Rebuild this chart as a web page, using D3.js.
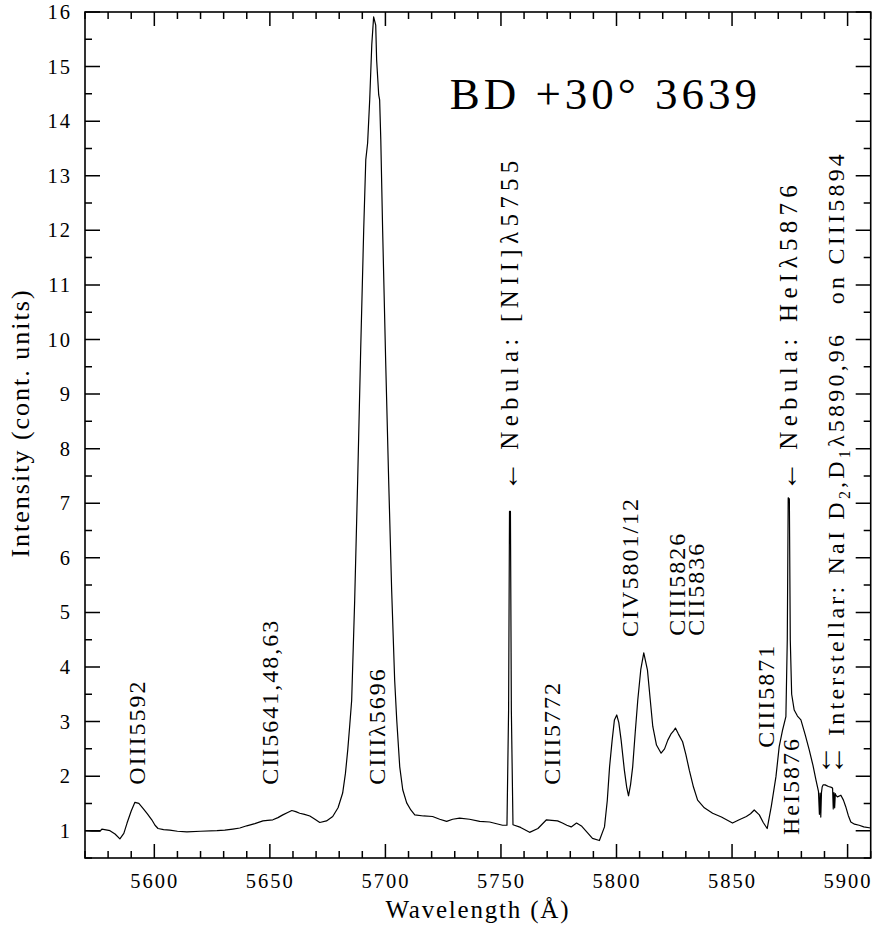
<!DOCTYPE html>
<html>
<head>
<meta charset="utf-8">
<script src="https://cdn.jsdelivr.net/npm/d3@7"></script>
<style>
  body { margin: 0; background: #fff; }
  text { font-family: "Liberation Serif", serif; fill: #000; }
</style>
</head>
<body>
<svg id="chart"></svg>
<script>
// spectrum: wavelength (A) and intensity (continuum units)
const wavelength = [
  5570.0, 5573.0, 5576.5, 5577.3, 5578.5, 5580.8, 5583.0, 5585.1, 5586.8, 5588.2, 5590.0, 5591.6,
  5593.3, 5595.1, 5597.0, 5598.9, 5600.3, 5601.6, 5604.0, 5606.7, 5610.0, 5614.1, 5620.0, 5627.1,
  5630.5, 5634.0, 5637.0, 5640.0, 5643.5, 5647.0, 5649.0, 5651.3, 5653.5, 5655.6, 5657.5, 5659.5,
  5661.2, 5662.9, 5665.0, 5667.3, 5669.5, 5671.6, 5674.5, 5677.2, 5679.5, 5681.5, 5682.7, 5683.7,
  5684.6, 5685.4, 5686.7, 5688.0, 5689.3, 5690.6, 5691.5, 5692.3, 5693.2, 5694.1, 5694.9, 5695.8,
  5696.2, 5697.1, 5697.5, 5698.0, 5698.8, 5700.1, 5701.4, 5702.7, 5704.0, 5704.9, 5706.2, 5707.5,
  5709.2, 5711.0, 5712.7, 5716.5, 5720.4, 5723.5, 5726.5, 5729.1, 5732.1, 5736.4, 5740.8, 5745.1,
  5750.7, 5752.6, 5753.3, 5753.7, 5754.1, 5754.5, 5755.2, 5758.5, 5762.4, 5766.0, 5769.7, 5772.0,
  5774.5, 5776.6, 5778.5, 5780.4, 5782.7, 5785.0, 5787.5, 5789.6, 5792.6, 5794.8, 5796.0, 5797.0,
  5798.1, 5799.1, 5800.1, 5801.0, 5802.0, 5803.4, 5804.4, 5805.2, 5806.1, 5807.0, 5808.1, 5809.2,
  5810.5, 5811.8, 5813.4, 5814.6, 5815.7, 5817.3, 5819.3, 5820.8, 5822.2, 5823.7, 5824.7, 5825.5,
  5826.8, 5828.6, 5830.0, 5831.5, 5833.3, 5835.1, 5838.0, 5841.6, 5845.4, 5848.0, 5850.2, 5853.1,
  5856.2, 5858.0, 5859.6, 5861.8, 5863.5, 5865.2, 5867.0, 5869.0, 5870.4, 5871.9, 5873.3, 5873.9,
  5874.3, 5874.8, 5875.2, 5875.8, 5876.9, 5878.3, 5879.8, 5881.7, 5883.4, 5885.0, 5886.3, 5887.4,
  5887.8, 5888.1, 5888.4, 5888.7, 5889.0, 5889.4, 5890.3, 5891.7, 5892.7, 5893.5, 5893.8, 5894.1,
  5894.4, 5894.7, 5894.9, 5895.6, 5897.1, 5898.2, 5899.2, 5900.3, 5901.4, 5903.0, 5905.0, 5907.0,
  5910.0
];
const intensity = [
  1.00, 0.99, 0.99, 1.03, 1.02, 1.00, 0.94, 0.85, 0.95, 1.14, 1.36, 1.52,
  1.50, 1.41, 1.31, 1.20, 1.10, 1.04, 1.02, 1.01, 0.99, 0.98, 0.99, 1.00,
  1.01, 1.03, 1.05, 1.09, 1.13, 1.18, 1.19, 1.20, 1.24, 1.29, 1.33, 1.37,
  1.35, 1.32, 1.30, 1.27, 1.21, 1.15, 1.18, 1.26, 1.42, 1.69, 2.05, 2.48,
  2.95, 3.39, 5.22, 7.43, 9.81, 12.00, 13.29, 13.60, 14.39, 15.40, 15.91, 15.76,
  15.12, 14.48, 14.39, 13.66, 12.00, 9.62, 7.43, 5.41, 3.76, 3.03, 2.17, 1.75,
  1.51, 1.38, 1.29, 1.27, 1.26, 1.21, 1.17, 1.21, 1.23, 1.21, 1.17, 1.16,
  1.10, 1.10, 3.20, 6.85, 6.85, 3.20, 1.11, 1.06, 0.97, 1.04, 1.20, 1.19,
  1.18, 1.14, 1.10, 1.07, 1.14, 1.08, 0.96, 0.86, 0.82, 1.07, 1.55, 2.17,
  2.65, 3.03, 3.12, 2.98, 2.66, 2.11, 1.80, 1.64, 1.85, 2.17, 2.80, 3.39,
  3.95, 4.26, 3.94, 3.40, 2.91, 2.57, 2.42, 2.50, 2.66, 2.78, 2.83, 2.88,
  2.77, 2.63, 2.40, 2.11, 1.80, 1.56, 1.42, 1.32, 1.25, 1.19, 1.14, 1.20,
  1.26, 1.31, 1.38, 1.29, 1.15, 1.04, 1.45, 1.99, 2.54, 2.85, 3.09, 4.50,
  7.10, 7.08, 4.50, 3.50, 3.21, 3.10, 3.03, 2.75, 2.48, 2.20, 1.93, 1.72,
  1.30, 1.69, 1.25, 1.70, 1.80, 1.84, 1.84, 1.81, 1.80, 1.78, 1.40, 1.70,
  1.42, 1.68, 1.65, 1.62, 1.65, 1.56, 1.44, 1.28, 1.16, 1.12, 1.10, 1.07,
  1.05
];

const xTicks = [5600, 5650, 5700, 5750, 5800, 5850, 5900];
const yTicks = [1, 2, 3, 4, 5, 6, 7, 8, 9, 10, 11, 12, 13, 14, 15, 16];

// line identifications: text, wavelength of the column, intensity where the text starts
const lineLabels = [
  {text: 'OIII5592', w: 5592.4, i: 1.84},
  {text: 'CII5641,48,63', w: 5650.0, i: 1.84},
  {text: 'CIIIλ5696', w: 5696.2, i: 1.84},
  {text: 'CIII5772', w: 5772.1, i: 1.84},
  {text: 'CIV5801/12', w: 5806.0, i: 4.55},
  {text: 'CIII5826', w: 5826.1, i: 4.57},
  {text: 'CII5836', w: 5834.6, i: 4.57},
  {text: 'CIII5871', w: 5864.7, i: 2.52},
  {text: 'HeI5876', w: 5875.5, i: 0.92}
];
// nebular lines, spaced wider than the ion labels
const nebulaLabels = [
  {text: ' Nebula: [NII]λ5755', w: 5754.0, i: 7.22},
  {text: ' Nebula: HeIλ5876', w: 5874.7, i: 7.22}
];
// the interstellar label carries subscripts, so it is kept in pieces
const interstellarParts = [
  {t: ' Interstellar: NaI D', sub: false},
  {t: '2', sub: true},
  {t: ',D', sub: false},
  {t: '1', sub: true},
  {t: 'λ5890,96   on CIII5894', sub: false}
];
const interstellarPos = {w: 5895.2, i: 2.02};
const extraArrow = {w: 5889.6, i: 2.02};
const title = {text: 'BD +30° 3639', w: 5727.8, i: 14.22};

let margin = {top: 12, right: 1.3, bottom: 72, left: 85},
  width = 872 - margin.left - margin.right,
  height = 930 - margin.top - margin.bottom;

let svg = d3.select('#chart')
  .attr('width', 872)
  .attr('height', 930)
  .append('g')
  .attr('transform', 'translate(' + margin.left + ',' + margin.top + ')');

let x = d3.scaleLinear().domain([5570, 5910]).range([0, width]);
let y = d3.scaleLinear().domain([0.5, 16]).range([height, 0]);

let xMinor = d3.range(5570, 5911, 10).filter((v) => xTicks.indexOf(v) < 0);
let yMinor = d3.range(0.5, 16.01, 0.5).filter((v) => yTicks.indexOf(v) < 0);

let styleLabels = function (g) {
  g.select('.domain').remove();
  g.selectAll('.tick line').remove();
  g.selectAll('.tick text')
    .attr('font-family', '"Liberation Serif", serif')
    .attr('font-size', 20.5)
    .attr('letter-spacing', 2)
    .attr('fill', '#000');
};

// tick labels from the axes
svg.append('g')
  .attr('transform', 'translate(0,' + height + ')')
  .call(d3.axisBottom(x).tickValues(xTicks).tickSize(0).tickPadding(15).tickFormat(d3.format('d')))
  .call(styleLabels);
svg.append('g')
  .call(d3.axisLeft(y).tickValues(yTicks).tickSize(0).tickPadding(13).tickFormat(d3.format('d')))
  .call(styleLabels);

// inward tick marks on all four sides, drawn as one path
let xMarks = xTicks.map((v) => ({v: v, len: 14})).concat(xMinor.map((v) => ({v: v, len: 7})));
let yMarks = yTicks.map((v) => ({v: v, len: 15})).concat(yMinor.map((v) => ({v: v, len: 7})));
let tickPath = '';
xMarks.forEach((d) => {
  let px = x(d.v);
  tickPath += 'M' + px + ',' + height + 'V' + (height - d.len);
  tickPath += 'M' + px + ',0V' + d.len;
});
yMarks.forEach((d) => {
  let py = y(d.v);
  tickPath += 'M0,' + py + 'H' + d.len;
  tickPath += 'M' + width + ',' + py + 'H' + (width - d.len);
});
svg.append('path')
  .attr('d', tickPath)
  .attr('fill', 'none')
  .attr('stroke', '#000')
  .attr('stroke-width', 1.5);

// frame
svg.append('rect')
  .attr('width', width)
  .attr('height', height)
  .attr('fill', 'none')
  .attr('stroke', '#000')
  .attr('stroke-width', 1.6);

// the spectrum
let spectrum = wavelength.map((w, k) => ({w: w, i: intensity[k]}));
svg.append('path')
  .datum(spectrum)
  .attr('fill', 'none')
  .attr('stroke', '#000')
  .attr('stroke-width', 1.2)
  .attr('stroke-linejoin', 'round')
  .attr('d', d3.line().x((d) => x(d.w)).y((d) => y(d.i)));

// axis titles
svg.append('text')
  .attr('x', width / 2)
  .attr('y', height + 60)
  .attr('text-anchor', 'middle')
  .attr('font-size', 25)
  .attr('letter-spacing', 1.8)
  .text('Wavelength (Å)');

svg.append('text')
  .attr('transform', 'translate(' + (29 - margin.left) + ',' + (height / 2 - 12) + ') rotate(-90)')
  .attr('text-anchor', 'middle')
  .attr('font-size', 26)
  .attr('letter-spacing', 2)
  .text('Intensity (cont. units)');

// object name
svg.append('text')
  .attr('x', x(title.w))
  .attr('y', y(title.i))
  .attr('font-size', 45)
  .attr('letter-spacing', 4)
  .text(title.text);

// rotated line identifications
svg.selectAll('.line-label')
  .data(lineLabels)
  .enter().append('text')
  .attr('class', 'line-label')
  .attr('transform', (d) => 'translate(' + x(d.w) + ',' + y(d.i) + ') rotate(-90)')
  .attr('dy', '0.33em')
  .attr('font-size', 24)
  .attr('letter-spacing', 2)
  .text((d) => d.text);

// labels that point at a line with a leading arrow
let arrowed = function (sel, size, spacing) {
  return sel
    .attr('dy', '0.33em')
    .attr('font-size', size)
    .attr('letter-spacing', spacing)
    .style('white-space', 'pre')
    .call((t) => t.append('tspan')
      .attr('font-size', 30)
      .attr('letter-spacing', 0)
      .text('←'));
};

svg.selectAll('.nebula-label')
  .data(nebulaLabels)
  .enter().append('text')
  .attr('class', 'nebula-label')
  .attr('transform', (d) => 'translate(' + x(d.w) + ',' + y(d.i) + ') rotate(-90)')
  .call(arrowed, 25, 5.3)
  .append('tspan')
  .text((d) => d.text);

svg.append('text')
  .attr('transform', 'translate(' + x(extraArrow.w) + ',' + y(extraArrow.i) + ') rotate(-90)')
  .call(arrowed, 24, 0);

let inter = svg.append('text')
  .attr('transform', 'translate(' + x(interstellarPos.w) + ',' + y(interstellarPos.i) + ') rotate(-90)')
  .call(arrowed, 24, 3.2);

interstellarParts.forEach((p, k) => {
  let prev = k > 0 ? interstellarParts[k - 1] : null;
  let shift = 0;
  if (p.sub) shift = 6;
  if (prev && prev.sub && !p.sub) shift = -6;
  inter.append('tspan')
    .attr('dy', shift)
    .attr('font-size', p.sub ? 16 : 24)
    .text(p.t);
});
</script>
</body>
</html>
